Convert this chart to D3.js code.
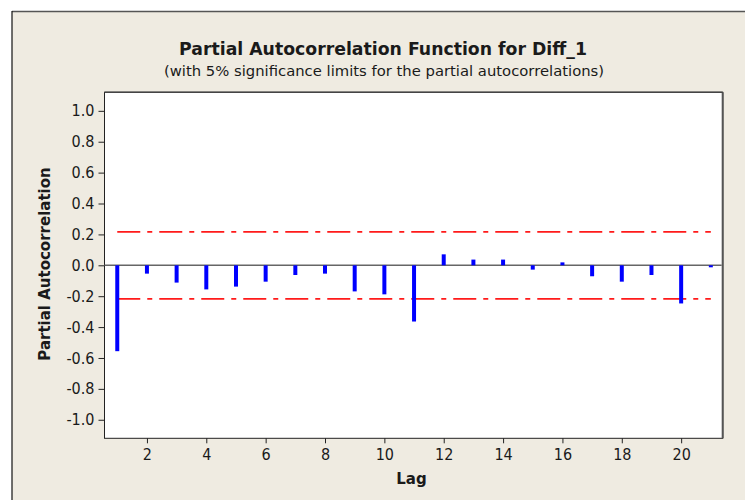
<!DOCTYPE html>
<html>
<head>
<meta charset="utf-8">
<script src="https://cdn.jsdelivr.net/npm/d3@7"></script>
<style>
  html, body { margin: 0; padding: 0; background: #ffffff; }
  svg { display: block; }
  text { font-family: "DejaVu Sans", sans-serif; fill: #1a1a1a; }
  .tick text { font-family: "DejaVu Sans Condensed", "DejaVu Sans", sans-serif; font-stretch: condensed; }
</style>
</head>
<body>
<svg id="chart" width="745" height="500"></svg>
<script>
// ---- data ----
const lags = [1,2,3,4,5,6,7,8,9,10,11,12,13,14,15,16,17,18,19,20,21];
const pacf = [-0.556,-0.054,-0.112,-0.156,-0.138,-0.106,-0.063,-0.054,-0.169,-0.188,-0.364,0.071,0.037,0.037,-0.028,0.019,-0.071,-0.106,-0.063,-0.247,-0.013];
const sigLimit = 0.217;
const xTicks = [2,4,6,8,10,12,14,16,18,20];
const yTicks = [-1.0,-0.8,-0.6,-0.4,-0.2,0.0,0.2,0.4,0.6,0.8,1.0];
const titleText = "Partial Autocorrelation Function for Diff_1";
const subtitleText = "(with 5% significance limits for the partial autocorrelations)";
const xLabel = "Lag";
const yLabel = "Partial Autocorrelation";

const svg = d3.select("#chart");

// outer frame
svg.append("rect").attr("x", 12).attr("y", 11.5).attr("width", 745).attr("height", 500)
  .attr("fill", "#efebe1");
svg.append("line").attr("x1", 12).attr("x2", 745).attr("y1", 11.5).attr("y2", 11.5)
  .attr("stroke", "#555").attr("stroke-width", 1.5);
svg.append("line").attr("x1", 12).attr("x2", 12).attr("y1", 11).attr("y2", 500)
  .attr("stroke", "#111").attr("stroke-width", 1.2);

const plot = {left: 104.5, right: 722.7, top: 92.3, bottom: 438.3};

const x = d3.scaleLinear().domain([0.57, 21.4]).range([plot.left, plot.right]);
const y = d3.scaleLinear().domain([-1.12, 1.12]).range([plot.bottom, plot.top]);

// plot area
svg.append("rect").attr("x", plot.left).attr("y", plot.top)
  .attr("width", plot.right - plot.left).attr("height", plot.bottom - plot.top)
  .attr("fill", "#ffffff").attr("stroke", "#222").attr("stroke-width", 1);
svg.append("line").attr("x1", plot.right).attr("x2", plot.right)
  .attr("y1", plot.top).attr("y2", plot.bottom)
  .attr("stroke", "#555").attr("stroke-width", 2);
svg.append("line").attr("x1", plot.left).attr("x2", plot.right)
  .attr("y1", plot.top).attr("y2", plot.top)
  .attr("stroke", "#444").attr("stroke-width", 1.5);

// axes
const yAxis = d3.axisLeft(y).tickValues(yTicks).tickSize(6).tickPadding(4);
const gy = svg.append("g").attr("transform", `translate(${plot.left},0)`).call(yAxis);
gy.select(".domain").remove();
gy.selectAll("text").attr("font-size", 16).style("fill", "#1a1a1a")
  .text(d => d3.format(".1f")(d).replace("\u2212", "-"));
gy.selectAll("line").attr("stroke", "#222");

const xAxis = d3.axisBottom(x).tickValues(xTicks).tickSize(5).tickPadding(5);
const gx = svg.append("g").attr("transform", `translate(0,${plot.bottom})`).call(xAxis);
gx.select(".domain").remove();
gx.selectAll("text").attr("font-size", 16).style("fill", "#1a1a1a");
gx.selectAll("line").attr("stroke", "#222");

// zero line
svg.append("line").attr("x1", plot.left).attr("x2", plot.right - 1)
  .attr("y1", y(0)).attr("y2", y(0))
  .attr("stroke", "#666").attr("stroke-width", 1.6);

// significance limits
[sigLimit, -sigLimit].forEach(v => {
  svg.append("line")
    .attr("x1", x(lags[0])).attr("x2", x(lags[lags.length - 1]))
    .attr("y1", y(v)).attr("y2", y(v))
    .attr("stroke", "#ff1a1a").attr("stroke-width", 1.7)
    .attr("stroke-dasharray", "23,7,5,7");
});

// bars
svg.append("g").selectAll("line").data(lags).join("line")
  .attr("x1", d => x(d)).attr("x2", d => x(d))
  .attr("y1", y(0)).attr("y2", (d, i) => y(pacf[i]))
  .attr("stroke", "#0000ff").attr("stroke-width", 4);

// titles
svg.append("text").attr("x", 383).attr("y", 55).attr("text-anchor", "middle")
  .attr("font-size", 17.3).attr("font-weight", "bold").text(titleText);
svg.append("text").attr("x", 384).attr("y", 76).attr("text-anchor", "middle")
  .attr("font-size", 14.8).text(subtitleText);
svg.append("text").attr("x", 411.5).attr("y", 484).attr("text-anchor", "middle")
  .attr("font-size", 15).attr("font-weight", "bold").text(xLabel);
svg.append("text").attr("transform", "translate(50,264) rotate(-90)").attr("text-anchor", "middle")
  .attr("font-size", 15).attr("font-weight", "bold").text(yLabel);
</script>
</body>
</html>
